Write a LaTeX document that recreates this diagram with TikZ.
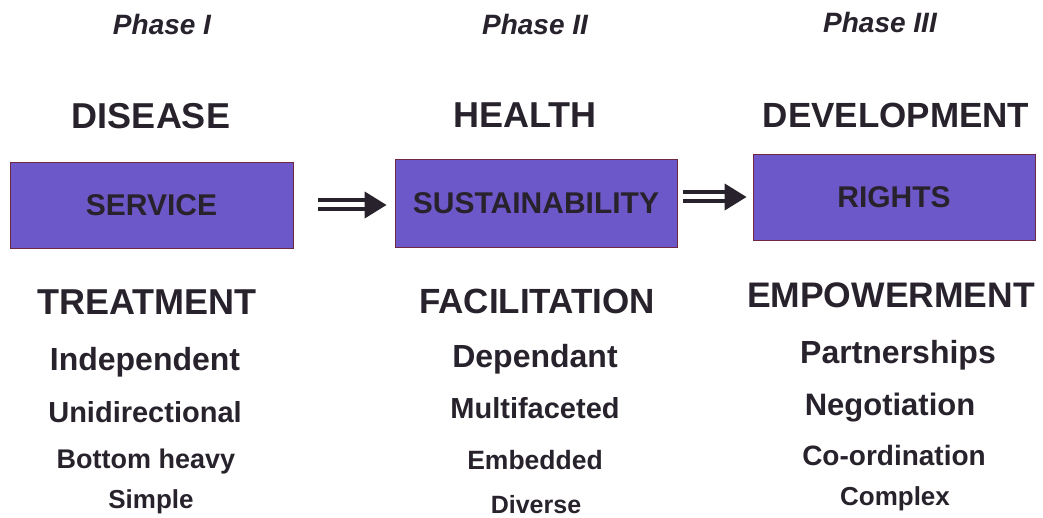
\documentclass[tikz,border=0pt]{standalone}
\usepackage{fontspec}
\setmainfont{Liberation Sans}
\usetikzlibrary{arrows.meta}
\definecolor{boxfill}{RGB}{108,88,200}
\definecolor{boxline}{RGB}{110,40,70}
\definecolor{ink}{RGB}{40,34,44}
\tikzset{
  phase/.style = {anchor=base, text=ink, inner sep=1pt, font=\fontsize{28}{30}\selectfont\bfseries\itshape},
  head/.style  = {anchor=base, text=ink, inner sep=1pt, font=\fontsize{36}{40}\selectfont\bfseries},
  item/.style  = {anchor=base, text=ink, inner sep=1pt, font=\fontsize{#1}{#1}\selectfont\bfseries},
  box/.style   = {draw=boxline, fill=boxfill, line width=0.8pt, text=ink, inner sep=0pt,
                  minimum width=282pt, minimum height=86pt, font=\fontsize{30}{32}\selectfont\bfseries},
  link/.style  = {draw=ink, line width=4pt, double=white, double distance=5pt,
                  -{Triangle[length=22pt,width=26pt]}},
}
\begin{document}
\begin{tikzpicture}[x=1pt,y=-1pt]
    \useasboundingbox (0,0) rectangle (1043,518);

    % phase I
    \node[phase] (ph1) at (162,35) {Phase I};
    \node[head] (disease) at (151,129) {DISEASE};
    \node[box,minimum width=283pt] (service) at (151.5,205) {SERVICE};
    \node[head] (treat) at (147,315) {TREATMENT};
    \node[item=32] (indep) at (145,370) {Independent};
    \node[item=29] (unidir) at (145,422) {Unidirectional};
    \node[item=27] (bottom) at (146,468) {Bottom heavy};
    \node[item=26] (simple) at (151,508) {Simple};

    % phase II
    \node[phase] (ph2) at (535,35) {Phase II};
    \node[head] (health) at (525,128) {HEALTH};
    \node[box,minimum height=88pt] (sustain) at (536,203) {SUSTAINABILITY};
    \node[head,font=\fontsize{35}{40}\selectfont\bfseries] (facil) at (537,313) {FACILITATION};
    \node[item=32] (depend) at (535,367) {Dependant};
    \node[item=29] (multi) at (535,418) {Multifaceted};
    \node[item=26.5] (embed) at (535,469) {Embedded};
    \node[item=25] (diverse) at (536,513) {Diverse};

    % phase III
    \node[phase] (ph3) at (880,33) {Phase III};
    \node[head,font=\fontsize{35}{40}\selectfont\bfseries] (develop) at (896,128) {DEVELOPMENT};
    \node[box] (rights) at (894,197) {RIGHTS};
    \node[head,font=\fontsize{35.5}{40}\selectfont\bfseries] (empower) at (891,308) {EMPOWERMENT};
    \node[item=32] (partner) at (898,363) {Partnerships};
    \node[item=31] (negot) at (890,415) {Negotiation};
    \node[item=28] (coord) at (894,465) {Co-ordination};
    \node[item=26] (complex) at (895,505) {Complex};

    \draw[link,shorten <=25pt,shorten >=8pt] (service.east) -- (service.east -| sustain.west);
    \draw[link,shorten <=6pt,shorten >=6pt] (sustain.east |- rights.west) -- (rights.west);
\end{tikzpicture}
\end{document}
